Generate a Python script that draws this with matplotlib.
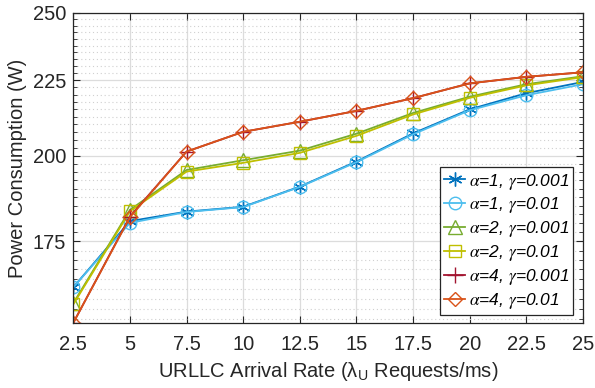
import matplotlib
matplotlib.use("Agg")
import matplotlib.pyplot as plt
from matplotlib.ticker import FixedLocator, NullFormatter, FuncFormatter
import numpy as np

plt.rcParams['font.family'] = ['Liberation Sans', 'DejaVu Sans']
plt.rcParams['mathtext.fontset'] = 'custom'
plt.rcParams['mathtext.rm'] = 'Liberation Sans'
plt.rcParams['mathtext.it'] = 'Liberation Sans:italic'

# ---- data ----
arrival_rate = [2.5, 5, 7.5, 10, 12.5, 15, 17.5, 20, 22.5, 25]
a1_g0001 = [162.9, 180.6, 183.3, 184.7, 190.6, 198.2, 207.1, 215.0, 220.5, 224.4]
a1_g001 = [162.9, 180.1, 183.2, 184.6, 190.5, 198.0, 206.8, 214.7, 219.8, 223.6]
a2_g0001 = [158.9, 183.8, 195.6, 198.6, 201.6, 207.0, 213.8, 219.3, 223.6, 226.4]
a2_g001 = [158.6, 183.4, 195.1, 197.8, 200.9, 206.3, 213.3, 218.9, 223.2, 226.1]
a4_g0001 = [154.1, 181.9, 201.3, 207.6, 210.9, 214.5, 218.8, 223.9, 226.2, 227.8]
a4_g001 = [154.1, 181.7, 201.3, 207.6, 210.9, 214.5, 218.8, 223.9, 226.2, 227.8]
labels = [r'$\alpha$=1, $\gamma$=0.001', r'$\alpha$=1, $\gamma$=0.01',
          r'$\alpha$=2, $\gamma$=0.001', r'$\alpha$=2, $\gamma$=0.01',
          r'$\alpha$=4, $\gamma$=0.001', r'$\alpha$=4, $\gamma$=0.01']
xticks = [2.5, 5, 7.5, 10, 12.5, 15, 17.5, 20, 22.5, 25]
xticklabels = ['2.5', '5', '7.5', '10', '12.5', '15', '17.5', '20', '22.5', '25']
yticks = [175, 200, 225, 250]

series = [a1_g0001, a1_g001, a2_g0001, a2_g001, a4_g0001, a4_g001]
colors = ['#0072BD', '#4DBEEE', '#77AC30', '#BFBF00', '#A2142F', '#D95319']
markers = [(6, 2, 0), 'o', '^', 's', '+', 'D']
msizes = [10, 9, 10, 8, 11, 7]

fig = plt.figure(figsize=(5.95, 3.88), dpi=100)
ax = fig.add_axes([0.1232, 0.1668, 0.8566, 0.8005])

for ys, c, m, ms, lab in zip(series, colors, markers, msizes, labels):
    ax.plot(arrival_rate, ys, color=c, marker=m, markersize=ms, markerfacecolor='none',
            markeredgecolor=c, markeredgewidth=1.0, linewidth=1.3, label=lab)

ax.set_yscale('log')
ax.set_xlim(2.5, 25)
ax.set_ylim(154, 250)
ax.xaxis.set_major_locator(FixedLocator(xticks))
ax.set_xticklabels(xticklabels)
ax.yaxis.set_major_locator(FixedLocator(yticks))
ax.yaxis.set_major_formatter(FuncFormatter(lambda v, p: f'{v:g}'))
minor = [v for v in np.arange(155, 250, 2.5) if v not in yticks]
ax.yaxis.set_minor_locator(FixedLocator(minor))
ax.yaxis.set_minor_formatter(NullFormatter())
ax.xaxis.set_minor_locator(FixedLocator([]))

ax.grid(True, which='major', color='#DCDCDC', linewidth=0.9, linestyle='-')
ax.grid(True, which='minor', axis='y', color='#D0D0D0', linewidth=0.8, linestyle=(0, (1, 2.5)))
ax.set_axisbelow(True)

for sp in ax.spines.values():
    sp.set_color('#262626')
    sp.set_linewidth(0.9)

ax.tick_params(which='both', direction='in', top=True, right=True, colors='#262626',
               labelsize=14.5, labelcolor='#262626')
ax.tick_params(which='major', length=5, width=0.8)
ax.tick_params(which='minor', length=3, width=0.6)
ax.tick_params(axis='x', pad=8.5)
ax.tick_params(axis='y', pad=5)

ax.set_xlabel(r'URLLC Arrival Rate ($\mathrm{\lambda_U}$ Requests/ms)', fontsize=14.5,
              color='#262626', labelpad=4)
ax.set_ylabel('Power Consumption (W)', fontsize=14.5, color='#262626', labelpad=4)

leg = ax.legend(loc='lower right', bbox_to_anchor=(573.3 / 595, 1 - 315 / 388),
                bbox_transform=fig.transFigure, borderaxespad=0, fancybox=False,
                framealpha=1, edgecolor='#262626', handlelength=1.2, handletextpad=0.2,
                labelspacing=0.22, borderpad=0.25,
                prop={'family': 'Liberation Sans', 'style': 'italic', 'size': 12.5,
                      'math_fontfamily': 'stix'})
leg.get_frame().set_linewidth(0.9)

fig.savefig('out.png', dpi=100)
